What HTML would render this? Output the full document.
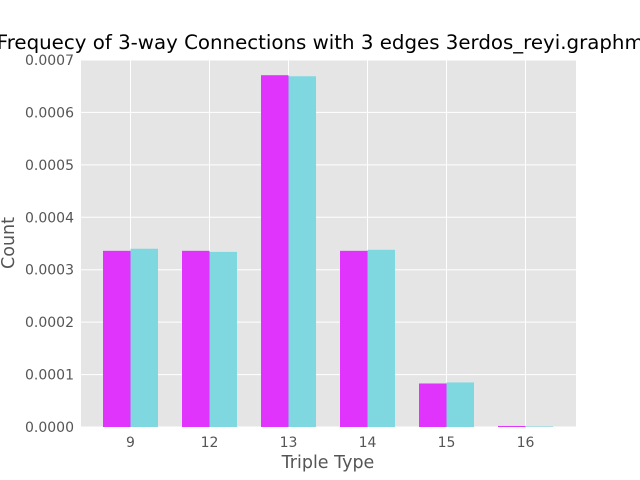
<!DOCTYPE html>
<html><head><meta charset="utf-8"><style>
body{margin:0;background:#fff;overflow:hidden}
svg{display:block;font-family:"DejaVu Sans","Liberation Sans",sans-serif}
</style></head><body>
<svg id="chart" width="640" height="480">
<rect x="81" y="60" width="495" height="367" fill="#e5e5e5"/>
<g id="grid"></g><g id="bars"></g><g id="ticks"></g>
<text x="323" y="49" text-anchor="middle" font-size="19.8" fill="#000">Frequecy of 3-way Connections with 3 edges 3erdos_reyi.graphml</text>
<text x="328" y="468" text-anchor="middle" font-size="17.5" fill="#555">Triple Type</text>
<text transform="translate(14,243) rotate(-90)" text-anchor="middle" font-size="17.5" fill="#555">Count</text>
</svg>
<script>
const categories=["9","12","13","14","15","16"];
const seriesA=[0.000336,0.000336,0.000671,0.000336,0.000083,0.000002];
const seriesB=[0.000340,0.000334,0.000669,0.000338,0.000085,0.000001];
const yTicks=[0,0.0001,0.0002,0.0003,0.0004,0.0005,0.0006,0.0007];
const yTickLabels=["0.0000","0.0001","0.0002","0.0003","0.0004","0.0005","0.0006","0.0007"];
const NS="http://www.w3.org/2000/svg";
const y0=427,y1=60,yMax=0.0007;
function y(v){return y0-(v/yMax)*(y0-y1);}
function xc(i){return 130.5+i*79;}
const bw=27.5;
function mk(tag,attrs,parent){const e=document.createElementNS(NS,tag);for(const k in attrs)e.setAttribute(k,attrs[k]);document.getElementById(parent).appendChild(e);return e;}
yTicks.forEach((t,i)=>{
 const g=mk("line",{x1:81,x2:576,y1:y(t),y2:y(t),stroke:"#fff","stroke-width":1},"grid");
 
 
 const l=mk("text",{x:74,y:y(t)+5,"text-anchor":"end","font-size":14,fill:"#555"},"ticks");
 l.textContent=yTickLabels[i];
 
 
});
categories.forEach((c,i)=>{
 const g=mk("line",{x1:xc(i),x2:xc(i),y1:60,y2:427,stroke:"#fff","stroke-width":1},"grid");
 
 
 const a=mk("rect",{x:xc(i)-bw,y:y(seriesA[i]),width:bw,height:y0-y(seriesA[i]),fill:"#e033fb"},"bars");
 
 
 const b=mk("rect",{x:xc(i),y:y(seriesB[i]),width:bw,height:y0-y(seriesB[i]),fill:"#7fd8e0"},"bars");
 
 
 const l=mk("text",{x:xc(i),y:447,"text-anchor":"middle","font-size":14,fill:"#555"},"ticks");
 l.textContent=c;
 
 
});
</script>
</body></html>
